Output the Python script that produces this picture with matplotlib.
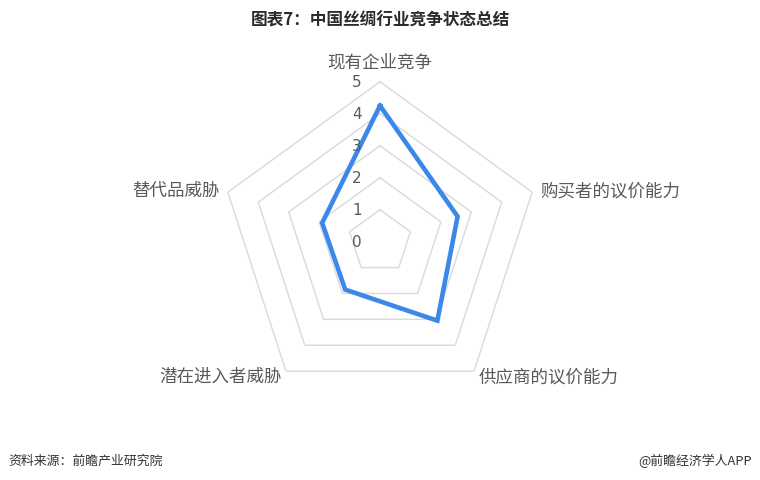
import numpy as np
import matplotlib
matplotlib.use("Agg")
import matplotlib.pyplot as plt

plt.rcParams['font.family'] = ['Noto Sans CJK SC', 'DejaVu Sans']

categories = ["现有企业竞争", "购买者的议价能力", "供应商的议价能力", "潜在进入者威胁", "替代品威胁"]
values = [4.25, 2.55, 3.05, 1.85, 1.9]
rings = [1, 2, 3, 4, 5]
tick_labels = ["0", "1", "2", "3", "4", "5"]
title = "图表7：中国丝绸行业竞争状态总结"
source = "资料来源：前瞻产业研究院"
credit = "@前瞻经济学人APP"

W, H = 760, 481
fig = plt.figure(figsize=(W / 100, H / 100), dpi=100)
cx, cy, R = 380, 481 - 242.7, 160
ax = fig.add_axes([(cx - R) / W, (cy - R) / H, 2 * R / W, 2 * R / H], projection='polar')
ax.set_theta_offset(np.pi / 2)
ax.set_theta_direction(-1)
ax.set_ylim(0, 5)
ax.grid(False)
ax.set_xticks([])
ax.set_yticks([])
ax.spines['polar'].set_visible(False)
ax.patch.set_alpha(0)

n = len(categories)
angles = np.linspace(0, 2 * np.pi, n, endpoint=False)
closed = np.concatenate([angles, angles[:1]])

for r in rings:
    ax.plot(closed, [r] * (n + 1), color='#d9d9d9', lw=1.0, zorder=1, clip_on=False)

vals = np.array(values + values[:1])
ax.plot(closed, vals, color='#3b88e8', lw=3.3, solid_joinstyle='miter', zorder=3, clip_on=False)

for i, t in enumerate(tick_labels):
    ax.annotate(t, xy=(0, i), xytext=(-23, 0), textcoords='offset pixels',
                ha='center', va='center', fontsize=11, color='#595959',
                family=['DejaVu Sans'], annotation_clip=False)

offsets = [(0, 20, 'center'), (8, 2, 'left'), (5, -5, 'left'), (-4, -5, 'right'), (-8, 2, 'right')]
for ang, lab, (dx, dy, ha) in zip(angles, categories, offsets):
    ax.annotate(lab, xy=(ang, 5), xytext=(dx, dy), textcoords='offset pixels',
                ha=ha, va='center', fontsize=12.6, color='#595959', annotation_clip=False)

fig.text(380 / W, 1 - 20.5 / H, title, ha='center', va='center', fontsize=12.0,
         fontweight='bold', color='#2b2b2b')
fig.text(8 / W, 1 - 461 / H, source, ha='left', va='center', fontsize=9.3, color='#333333')
fig.text(752 / W, 1 - 461 / H, credit, ha='right', va='center', fontsize=9.3, color='#333333')

fig.savefig('out.png', dpi=100)
